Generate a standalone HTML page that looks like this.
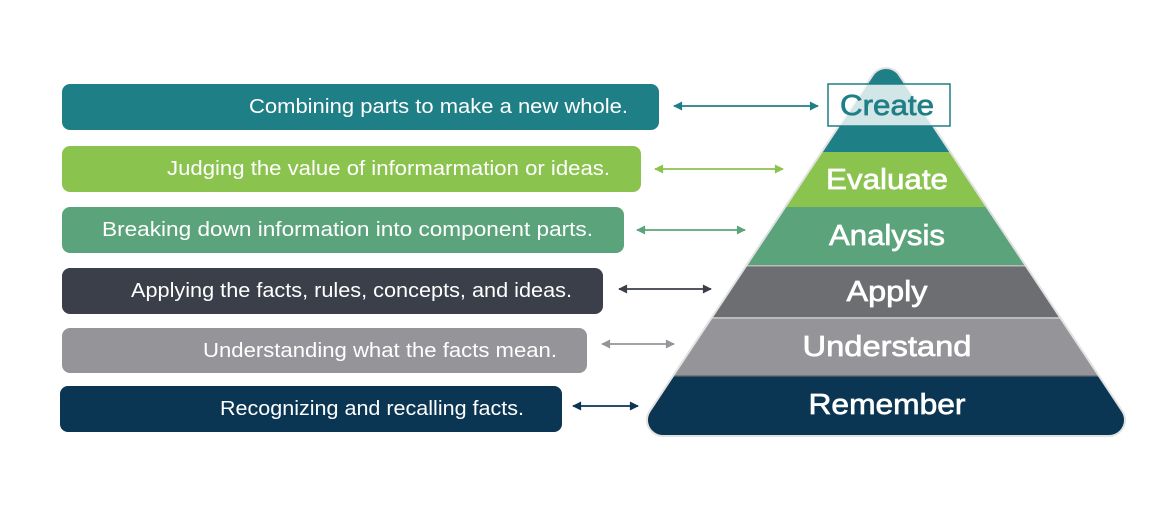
<!DOCTYPE html>
<html><head><meta charset="utf-8"><style>html,body{margin:0;padding:0;background:#fff}svg{display:block}</style></head>
<body>
<svg width="1170" height="516" viewBox="0 0 1170 516" xmlns="http://www.w3.org/2000/svg" font-family="Liberation Sans, sans-serif">
<defs>
<mask id="pm">
<polygon points="886,84 663,420 1109,420" fill="#fff" stroke="#fff" stroke-width="30" stroke-linejoin="round"/>
</mask>
<marker id="a" viewBox="0 0 10 10" refX="9" refY="5" markerWidth="14" markerHeight="9" markerUnits="userSpaceOnUse" orient="auto-start-reverse"><path d="M0,0 L10,5 L0,10 z" fill="context-stroke"/></marker>
</defs>
<polygon points="886,84 663,420 1109,420" fill="#e2e2e2" stroke="#e2e2e2" stroke-width="34" stroke-linejoin="round"/>
<g mask="url(#pm)">
<rect x="600" y="40" width="560" height="112" fill="#1f7f86"/>
<rect x="600" y="152" width="560" height="55" fill="#8bc34f"/>
<rect x="600" y="207" width="560" height="58" fill="#5ba37b"/>
<rect x="600" y="266" width="560" height="51" fill="#6d6e72"/>
<rect x="600" y="319" width="560" height="56" fill="#959599"/>
<rect x="600" y="376" width="560" height="70" fill="#0a3553"/>
<rect x="600" y="265" width="560" height="1.5" fill="#bbb"/>
<rect x="600" y="317" width="560" height="2" fill="#bbb"/>
<rect x="600" y="375" width="560" height="1.5" fill="#777"/>
</g>
<rect x="828" y="84" width="122" height="42" fill="rgba(255,255,255,0.8)" stroke="#1f7f86" stroke-width="1.5"/>
<g text-anchor="middle" fill="#fff" font-size="29" stroke="#fff" stroke-width="0.7">
<text x="887" y="115" fill="#1f7f86" stroke="#1f7f86" textLength="94" lengthAdjust="spacingAndGlyphs">Create</text>
<text x="887" y="189" textLength="122" lengthAdjust="spacingAndGlyphs">Evaluate</text>
<text x="887" y="245" textLength="116" lengthAdjust="spacingAndGlyphs">Analysis</text>
<text x="887" y="301" textLength="81" lengthAdjust="spacingAndGlyphs">Apply</text>
<text x="887" y="356" textLength="169" lengthAdjust="spacingAndGlyphs">Understand</text>
<text x="887" y="414" textLength="157" lengthAdjust="spacingAndGlyphs">Remember</text>
</g>
<rect x="62" y="84" width="597" height="46" rx="8" fill="#1f7f86"/>
<rect x="62" y="146" width="579" height="46" rx="8" fill="#8bc34f"/>
<rect x="62" y="207" width="562" height="46" rx="8" fill="#5ba37b"/>
<rect x="62" y="268" width="541" height="46" rx="8" fill="#3b3f4a"/>
<rect x="62" y="328" width="525" height="45" rx="8" fill="#959599"/>
<rect x="60" y="386" width="502" height="46" rx="8" fill="#0a3553"/>
<g fill="#fff" font-size="20">
<text x="249" y="113" textLength="379" lengthAdjust="spacingAndGlyphs">Combining parts to make a new whole.</text>
<text x="167" y="175" textLength="443" lengthAdjust="spacingAndGlyphs">Judging the value of informarmation or ideas.</text>
<text x="102" y="236" textLength="491" lengthAdjust="spacingAndGlyphs">Breaking down information into component parts.</text>
<text x="131" y="297" textLength="441" lengthAdjust="spacingAndGlyphs">Applying the facts, rules, concepts, and ideas.</text>
<text x="203" y="357" textLength="354" lengthAdjust="spacingAndGlyphs">Understanding what the facts mean.</text>
<text x="220" y="415" textLength="304" lengthAdjust="spacingAndGlyphs">Recognizing and recalling facts.</text>
</g>
<g stroke-width="1.8" marker-start="url(#a)" marker-end="url(#a)">
<line x1="674" y1="106" x2="818" y2="106" stroke="#1f7f86"/>
<line x1="655" y1="169" x2="783" y2="169" stroke="#8bc34f"/>
<line x1="637" y1="230" x2="745" y2="230" stroke="#5ba37b"/>
<line x1="619" y1="289" x2="711" y2="289" stroke="#3b3f4a"/>
<line x1="602" y1="344" x2="674" y2="344" stroke="#959599"/>
<line x1="573" y1="406" x2="638" y2="406" stroke="#0a3553"/>
</g>
</svg>
</body></html>
